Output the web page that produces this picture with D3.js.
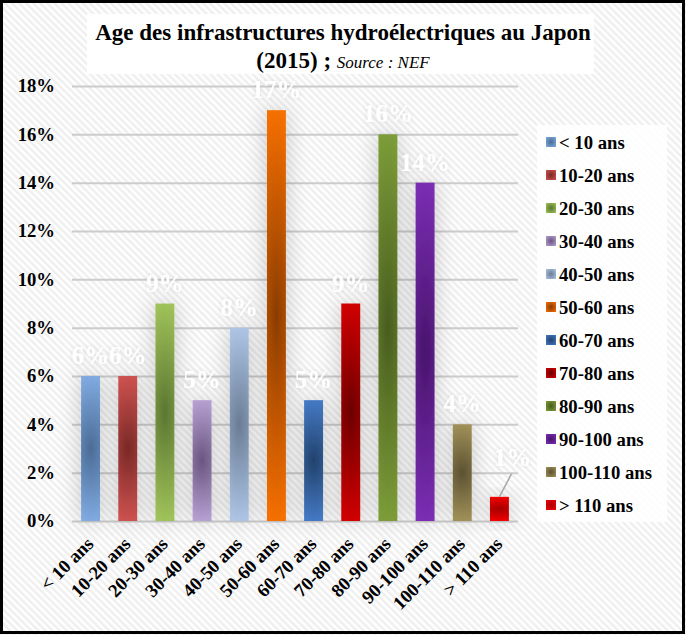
<!DOCTYPE html>
<html>
<head>
<meta charset="utf-8">
<script src="https://cdn.jsdelivr.net/npm/d3@7/dist/d3.min.js"></script>
<style>
  html, body { margin: 0; padding: 0; background: #fff; }
  svg { display: block; }
</style>
</head>
<body>
<svg id="chart" width="686" height="635"></svg>
<script>
const categories = ["< 10 ans", "10-20 ans", "20-30 ans", "30-40 ans", "40-50 ans", "50-60 ans",
                    "60-70 ans", "70-80 ans", "80-90 ans", "90-100 ans", "100-110 ans", "> 110 ans"];
const values = [0.06, 0.06, 0.09, 0.05, 0.08, 0.17, 0.05, 0.09, 0.16, 0.14, 0.04, 0.01];
const yTicks = [0, 0.02, 0.04, 0.06, 0.08, 0.10, 0.12, 0.14, 0.16, 0.18];
const lightColors = ["#80aae0", "#cc5250", "#a0c25a", "#b6a0d2", "#adc4e4", "#f56f00",
                     "#4479c4", "#d00000", "#7c9c38", "#7a2eb2", "#a09058", "#f00000"];
const darkColors  = ["#4a6c95", "#7a2826", "#5a7630", "#6a5580", "#6a7c94", "#8a3c02",
                     "#22426c", "#6c0000", "#485c1e", "#48146c", "#5c5232", "#a80000"];
const titleLine1 = "Age des infrastructures hydroélectriques au Japon";
const titleLine2a = "(2015) ; ";
const titleLine2b = "Source : NEF";

const FONT = "'Liberation Serif', 'Times New Roman', Times, serif";
const svg = d3.select("#chart");
const W = 686, H = 635;
const plot = {left: 72, right: 518, top: 86, bottom: 521};

const defs = svg.append("defs");
const pat = defs.append("pattern").attr("id", "hatch").attr("patternUnits", "userSpaceOnUse")
  .attr("width", 5).attr("height", 5).attr("patternTransform", "rotate(-45)");
pat.append("rect").attr("width", 5).attr("height", 5).attr("fill", "#ffffff");
pat.append("rect").attr("width", 2.5).attr("height", 5).attr("fill", "#efefef");

const f = defs.append("filter").attr("id", "glow").attr("x", "-200%").attr("y", "-40%").attr("width", "500%").attr("height", "180%");
f.append("feGaussianBlur").attr("in", "SourceAlpha").attr("stdDeviation", 11).attr("result", "b");
f.append("feFlood").attr("flood-color", "#000").attr("flood-opacity", 0.22).attr("result", "c");
f.append("feComposite").attr("in", "c").attr("in2", "b").attr("operator", "in").attr("result", "s");
const fm = f.append("feMerge");
fm.append("feMergeNode").attr("in", "s");
fm.append("feMergeNode").attr("in", "SourceGraphic");

const tf = defs.append("filter").attr("id", "tglow").attr("x", "-50%").attr("y", "-50%").attr("width", "200%").attr("height", "200%");
tf.append("feGaussianBlur").attr("in", "SourceAlpha").attr("stdDeviation", 2.5).attr("result", "b");
tf.append("feFlood").attr("flood-color", "#000").attr("flood-opacity", 0.12).attr("result", "c");
tf.append("feComposite").attr("in", "c").attr("in2", "b").attr("operator", "in").attr("result", "s");
const tm = tf.append("feMerge");
tm.append("feMergeNode").attr("in", "s");
tm.append("feMergeNode").attr("in", "SourceGraphic");

categories.forEach((c, i) => {
  const g = defs.append("radialGradient").attr("id", "g" + i)
    .attr("cx", 0.5).attr("cy", 0.5).attr("r", 0.5)
    .attr("gradientTransform", "translate(0.5,0.5) scale(3,1) translate(-0.5,-0.5)");
  g.append("stop").attr("offset", 0).attr("stop-color", darkColors[i]);
  g.append("stop").attr("offset", 1).attr("stop-color", lightColors[i]);
  const lg = defs.append("radialGradient").attr("id", "lg" + i)
    .attr("cx", 0.5).attr("cy", 0.5).attr("r", 0.7);
  lg.append("stop").attr("offset", 0).attr("stop-color", darkColors[i]);
  lg.append("stop").attr("offset", 1).attr("stop-color", lightColors[i]);
});

svg.append("rect").attr("width", W).attr("height", H).attr("fill", "url(#hatch)");

const x = d3.scaleBand().domain(categories).range([plot.left, plot.right])
  .paddingInner(0.49).paddingOuter(0.245);
const y = d3.scaleLinear().domain([0, 0.18]).range([plot.bottom, plot.top]);

const grid = svg.append("g").attr("transform", `translate(${plot.left},0)`)
  .call(d3.axisLeft(y).tickValues(yTicks).tickSize(-(plot.right - plot.left)).tickFormat(""));
grid.select(".domain").remove();
grid.selectAll("line").attr("stroke", "#cccccc").attr("stroke-width", 2);

svg.append("g").selectAll("rect").data(values).join("rect")
  .attr("x", (d, i) => x(categories[i]))
  .attr("y", d => y(d))
  .attr("width", x.bandwidth())
  .attr("height", d => y(0) - y(d))
  .attr("fill", (d, i) => `url(#g${i})`)
  .attr("filter", "url(#glow)");

const ya = svg.append("g").attr("transform", `translate(${plot.left},0)`)
  .call(d3.axisLeft(y).tickValues(yTicks).tickSize(0).tickPadding(17).tickFormat(d3.format(".0%")));
ya.select(".domain").remove();
ya.attr("font-family", null).attr("font-size", null);
ya.selectAll("text").attr("font-family", FONT).attr("font-weight", "bold")
  .attr("font-size", 18.7).attr("fill", "#000");

const xa = svg.append("g").attr("transform", `translate(0,${plot.bottom})`)
  .call(d3.axisBottom(x).tickSize(0).tickFormat(d => d));
xa.select(".domain").remove();
xa.attr("font-family", null).attr("font-size", null);
xa.selectAll("text").attr("font-family", FONT).attr("font-weight", "bold")
  .attr("font-size", 18.7).attr("fill", "#000")
  .attr("text-anchor", "end").attr("dy", 0).attr("y", 0)
  .attr("transform", "translate(4,24) rotate(-45)");

const last = values.length - 1;
svg.append("g").attr("filter", "url(#tglow)").selectAll("text").data(values).join("text")
  .attr("x", (d, i) => x(categories[i]) + x.bandwidth() / 2 + (i === last ? 13 : 0))
  .attr("y", (d, i) => y(d) - (i === last ? 31 : 12))
  .attr("text-anchor", "middle")
  .attr("font-family", FONT).attr("font-weight", "bold").attr("font-size", 25)
  .attr("fill", "#ffffff")
  .text(d => d3.format(".0%")(d));

svg.append("line")
  .attr("x1", x(categories[last]) + x.bandwidth() / 2)
  .attr("y1", y(values[last]))
  .attr("x2", x(categories[last]) + x.bandwidth() / 2 + 12)
  .attr("y2", y(values[last]) - 23)
  .attr("stroke", "#a6a6a6").attr("stroke-width", 1.5);

svg.append("rect").attr("x", 87).attr("y", 14).attr("width", 507).attr("height", 60)
  .attr("fill", "#ffffff");
svg.append("text").attr("x", 343).attr("y", 40).attr("text-anchor", "middle")
  .attr("font-family", FONT).attr("font-weight", "bold").attr("font-size", 23)
  .text(titleLine1);
const t2 = svg.append("text").attr("x", 343).attr("y", 68).attr("text-anchor", "middle")
  .attr("font-family", FONT);
t2.append("tspan").attr("font-weight", "bold").attr("font-size", 23).text(titleLine2a);
t2.append("tspan").attr("font-style", "italic").attr("font-size", 17).text(titleLine2b);

svg.append("rect").attr("x", 537).attr("y", 125).attr("width", 130).attr("height", 397)
  .attr("fill", "#ffffff").attr("fill-opacity", 0.85);
const leg = svg.append("g").selectAll("g").data(categories).join("g")
  .attr("transform", (d, i) => `translate(546,${142 + i * 33})`);
leg.append("rect").attr("x", 0).attr("y", -5).attr("width", 10).attr("height", 10)
  .attr("fill", (d, i) => `url(#lg${i})`);
leg.append("text").attr("x", 13).attr("y", 0).attr("dy", "0.35em")
  .attr("font-family", FONT).attr("font-weight", "bold").attr("font-size", 18.7)
  .text(d => d);

svg.append("rect").attr("x", 1.5).attr("y", 1.5).attr("width", 682).attr("height", 631)
  .attr("fill", "none").attr("stroke", "#000").attr("stroke-width", 3);
</script>
</body>
</html>
